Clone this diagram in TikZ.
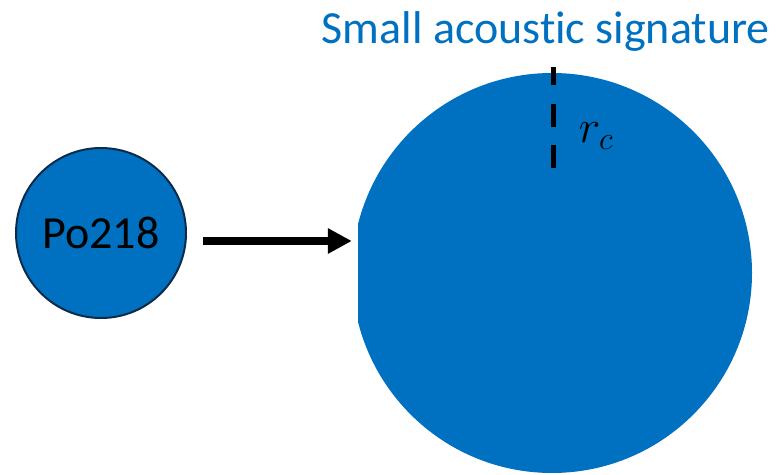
\RequirePackage{fix-cm}
\documentclass[tikz,border=0pt]{standalone}
\usepackage{fontspec}
\setmainfont{Carlito}[Ligatures=NoCommon]
\usepackage{tikz}
\usetikzlibrary{arrows.meta, positioning}
\DeclareMathSizes{46}{46}{32}{23}
\definecolor{dropblue}{HTML}{0070C0}
\definecolor{rimblue}{HTML}{0B2B4B}

\begin{document}
\begin{tikzpicture}[x=1pt, y=-1pt, >={Triangle[length=24pt, width=24pt]}, atom/.style={circle, draw=rimblue, line width=2pt, fill=dropblue, minimum size=170pt, inner sep=0pt, font=\fontsize{46}{50}\selectfont}, bubble/.style={circle, fill=dropblue, minimum size=400pt, inner sep=0pt}, radiusline/.style={line width=5pt, dash pattern=on 23pt off 18.5pt}, push/.style={->, line width=8pt}]
\useasboundingbox (0,0) rectangle (776,474);
\node [anchor=base east, text=dropblue, font=\fontsize{46}{50}\selectfont, inner sep=0pt] (title) at (770,43) {Small acoustic signature};
\begin{scope}
\clip (358,0) rectangle (776,474);
\node [bubble] (B) at (552,273) {};
\end{scope}
\node [atom] (P) at (101,233) {Po218};
\coordinate (top) at (553,67);
\coordinate (foot) at (553,168);
\draw [radiusline] (foot) -- (top);
\node [font=\fontsize{46}{50}\selectfont] (rc) at (596,136) {$r_c$};
\coordinate (tail) at ([xshift=16pt, yshift=-8pt]P.east);
\draw [push] (tail) -- (tail -| B.west);
\end{tikzpicture}
\end{document}
